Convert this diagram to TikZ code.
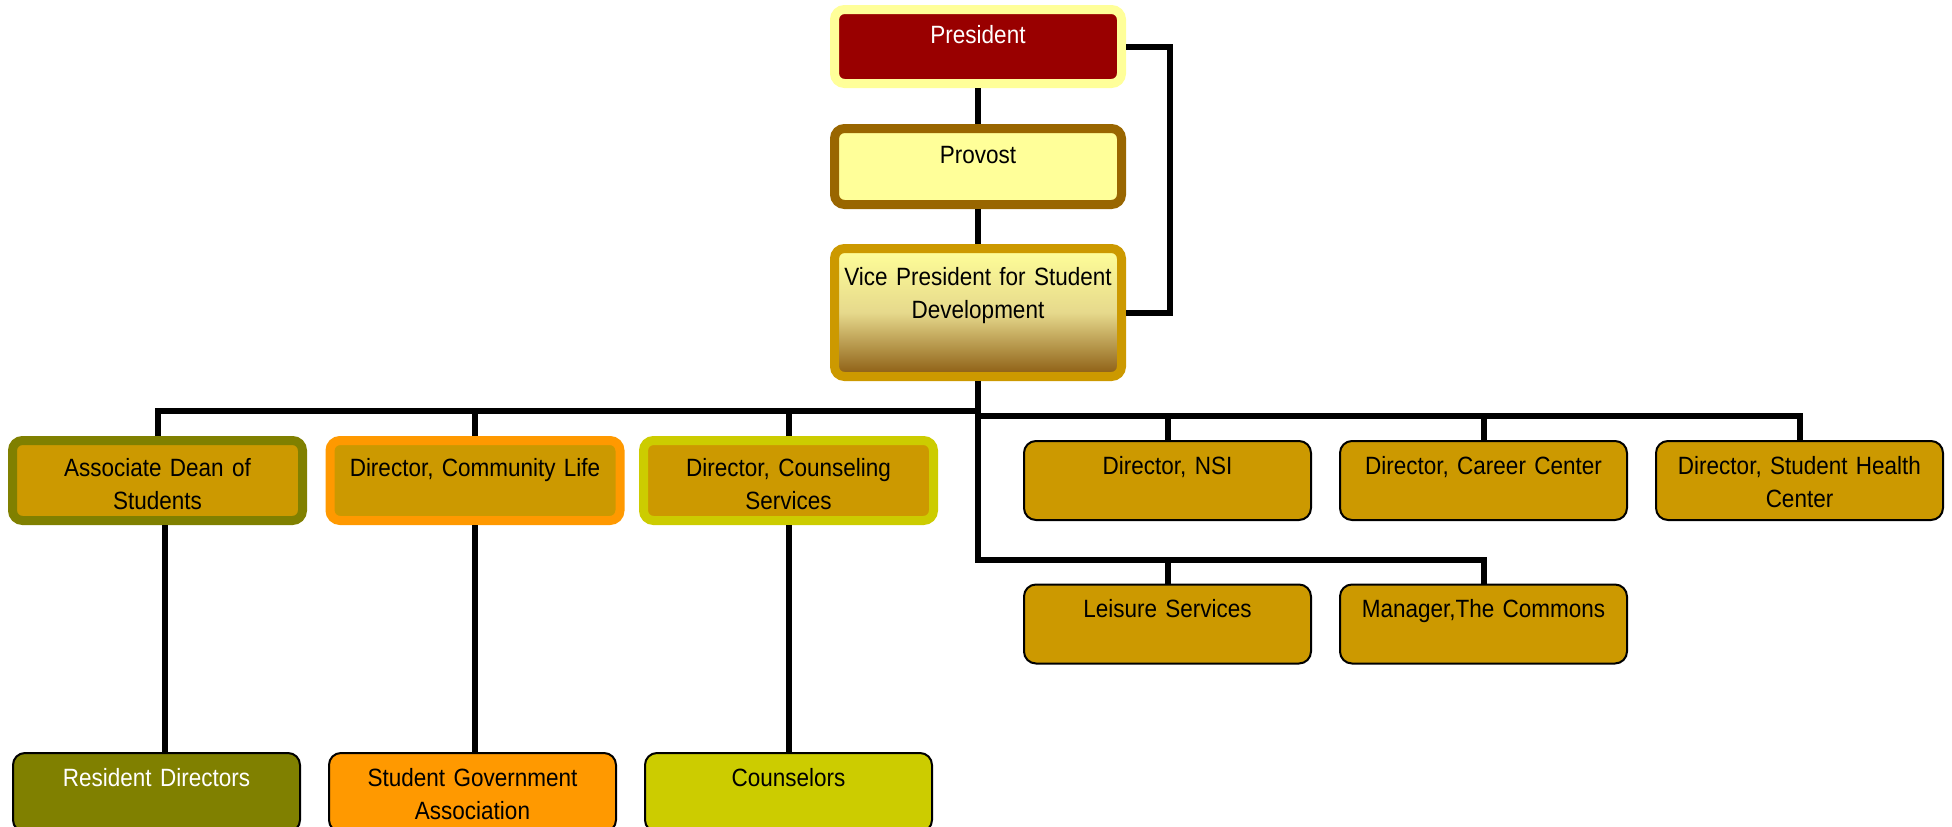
\documentclass[tikz,border=0pt]{standalone}
\usepackage{fontspec}
\setmainfont{Liberation Sans}[FakeStretch=0.9]

\definecolor{brickred}{HTML}{990000}
\definecolor{paleyellow}{HTML}{FFFF99}
\definecolor{darkbrown}{HTML}{996600}
\definecolor{mustard}{HTML}{CC9900}
\definecolor{olivegreen}{HTML}{808000}
\definecolor{tangerine}{HTML}{FF9900}
\definecolor{limeyellow}{HTML}{CCCC00}
\definecolor{vpmiddle}{HTML}{E6D98C}
\definecolor{vpbottom}{HTML}{8A5A10}

\begin{document}
\begin{tikzpicture}[x=1pt, y=-1pt,
  every node/.style={font=\fontsize{25}{33}\selectfont, align=center, inner sep=0pt},
  headbox/.style={draw=#1, line width=9pt, rounded corners=10pt, text width=287pt},
  ringbox/.style={draw=#1, fill=mustard, line width=9pt, rounded corners=10pt,
    text width=290pt, text height=35.5pt, text depth=44.5pt},
  flatbox/.style={draw=black, fill=#1, line width=2pt, rounded corners=12pt,
    text width=287pt, text height=33pt, text depth=46pt},
  link/.style={line width=6pt}]

  \useasboundingbox (0,0) rectangle (1952,827);

  \node [headbox=paleyellow, fill=brickred, text=white, text height=33.5pt, text depth=40.5pt] (pres) at (978,46.5) {President};
  \node [headbox=darkbrown, fill=paleyellow, text height=34.5pt, text depth=41.5pt] (prov) at (978,166.5) {Provost};
  \node [headbox=mustard, top color=paleyellow, bottom color=vpbottom, middle color=vpmiddle,
    text height=36.5pt, text depth=91.5pt] (vp) at (978,312.5) {Vice President for Student\\Development};

  \foreach \c/\t/\x/\n in {olivegreen/{Associate Dean of\\Students}/157.5/dean,
      tangerine/{Director, Community Life}/475/comm,
      limeyellow/{Director, Counseling\\Services}/788.5/couns} {
    \node [ringbox=\c] (\n) at (\x,480.5) {\t};
  }

  \foreach \t/\x/\n in {{Director, NSI}/1167.5/nsi, {Director, Career Center}/1483.5/career,
      {Director, Student Health\\Center}/1799.5/health} {
    \node [flatbox=mustard] (\n) at (\x,480.5) {\t};
  }

  \node [flatbox=mustard] (leisure) at (1167.5,624) {Leisure Services};
  \node [flatbox=mustard] (commons) at (1483.5,624) {Manager,The Commons};

  \node [flatbox=olivegreen, text=white] (res) at (156.5,792.5) {Resident Directors};
  \node [flatbox=tangerine] (sga) at (472.5,792.5) {Student Government\\Association};
  \node [flatbox=limeyellow] (counselors) at (788.5,792.5) {Counselors};

  % upper chain
  \draw [link] (pres) -- (prov);
  \draw [link] (prov) -- (vp);
  \draw [link] (pres.east) -- ++(44,0) |- (vp.east);

  % branches below the vice president
  \coordinate (hubL) at (978,411);
  \coordinate (hubR) at (978,416);
  \coordinate (hubS) at (978,560);
  \draw [link] (vp) -- (hubR) -- (hubS) -| (commons.north);
  \draw [link] (hubL) -| (dean.north);
  \draw [link] (hubR) -| (health.north);
  \foreach \n in {comm,couns} \draw [link] (\n.north) -- (\n.north |- hubL);
  \foreach \n in {nsi,career} \draw [link] (\n.north) -- (\n.north |- hubR);
  \draw [link] (leisure.north) -- (leisure.north |- hubS);

  % lowest row
  \coordinate (deanfoot) at (165,525);
  \draw [link] (deanfoot) -- (deanfoot |- res.north);
  \draw [link] (comm.south) -- (comm.south |- sga.north);
  \draw [link] (couns) -- (counselors);

\end{tikzpicture}
\end{document}
